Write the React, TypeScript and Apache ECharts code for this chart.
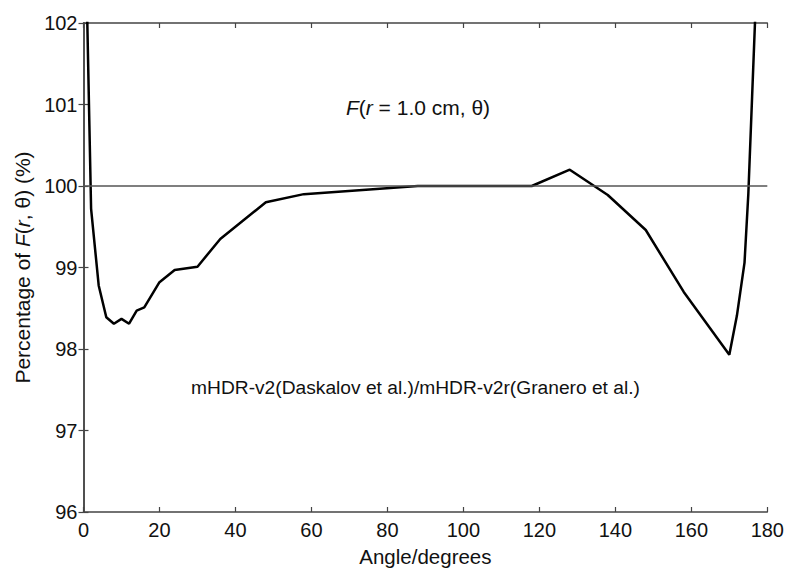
import React, { useEffect, useRef } from "react";
import * as echarts from "echarts";

const angles = [0, 2, 4, 6, 8, 10, 12, 14, 16, 20, 24, 30, 36, 48, 58, 88, 118, 128, 138, 148, 158, 170, 172, 174, 175, 176, 177, 180];
const percentages = [104.3, 99.72, 98.78, 98.39, 98.31, 98.37, 98.31, 98.47, 98.51, 98.82, 98.97, 99.01, 99.35, 99.8, 99.9, 100.0, 100.0, 100.2, 99.89, 99.46, 98.7, 97.93, 98.41, 99.06, 99.9, 101.1, 102.3, 108];
const referenceLevel = 100;
const xTicks = { min: 0, max: 180, interval: 20 };
const yTicks = { min: 96, max: 102, interval: 1 };
const titleText = "{i|F}({i|r} = 1.0 cm, θ)";
const subtitleText = "mHDR-v2(Daskalov et al.)/mHDR-v2r(Granero et al.)";
const yName = "Percentage of {i|F}({i|r}, θ) (%)";
const xName = "Angle/degrees";

const FONT = "'Liberation Sans', Arial, Helvetica, sans-serif";
const AXIS_COLOR = "#444";

export default function App() {
  const ref = useRef<HTMLDivElement>(null);
  useEffect(() => {
    if (!ref.current) return;
    const chart = echarts.init(ref.current, undefined, { renderer: "svg" });
    const axisLine = { show: true, lineStyle: { color: AXIS_COLOR, width: 1.5 } };
    const axisTick = { show: true, inside: true, length: 5, lineStyle: { color: AXIS_COLOR, width: 1.2 } };
    const italic = (size: number) => ({ fontStyle: "italic", fontFamily: FONT, fontSize: size, color: "#111" });
    chart.setOption({
      animation: false,
      backgroundColor: "#fff",
      textStyle: { fontFamily: FONT },
      grid: { left: 83.5, right: 19.5, top: 23, bottom: 52, containLabel: false },
      xAxis: [
        {
          type: "value",
          min: xTicks.min,
          max: xTicks.max,
          interval: xTicks.interval,
          position: "bottom",
          axisLine,
          axisTick,
          splitLine: { show: false },
          axisLabel: { color: "#111", fontSize: 20, fontFamily: FONT, margin: 8 },
          name: xName,
          nameLocation: "middle",
          nameGap: 34,
          nameTextStyle: { color: "#111", fontSize: 20.5, fontFamily: FONT },
        },
        {
          type: "value",
          min: xTicks.min,
          max: xTicks.max,
          interval: xTicks.interval,
          position: "top",
          axisLine,
          axisTick,
          splitLine: { show: false },
          axisLabel: { show: false },
        },
      ],
      yAxis: [
        {
          type: "value",
          min: yTicks.min,
          max: yTicks.max,
          interval: yTicks.interval,
          position: "left",
          axisLine,
          axisTick,
          splitLine: { show: false },
          axisLabel: { color: "#111", fontSize: 20, fontFamily: FONT, margin: 6 },
          name: yName,
          nameLocation: "middle",
          nameGap: 50,
          nameTextStyle: {
            color: "#111",
            fontSize: 21,
            fontFamily: FONT,
            rich: { i: italic(21) },
          },
        },
        {
          type: "value",
          min: yTicks.min,
          max: yTicks.max,
          interval: yTicks.interval,
          position: "right",
          axisLine,
          axisTick,
          splitLine: { show: false },
          axisLabel: { show: false },
        },
      ],
      series: [
        {
          type: "line",
          data: angles.map((a, i) => [a, percentages[i]]),
          showSymbol: false,
          symbol: "none",
          clip: true,
          lineStyle: { color: "#000", width: 2.5 },
          z: 3,
          markLine: {
            silent: true,
            symbol: "none",
            label: { show: false },
            lineStyle: { color: "#555", width: 1.5, type: "solid" },
            data: [{ yAxis: referenceLevel }],
          },
        },
      ],
      graphic: [
        {
          type: "text",
          x: 418,
          y: 107,
          style: {
            text: titleText,
            fontSize: 21,
            fontFamily: FONT,
            fill: "#111",
            align: "center",
            verticalAlign: "middle",
            rich: { i: italic(21) },
          },
        },
        {
          type: "text",
          x: 415.5,
          y: 387,
          style: {
            text: subtitleText,
            fontSize: 19.2,
            fontFamily: FONT,
            fill: "#111",
            align: "center",
            verticalAlign: "middle",
          },
        },
      ],
    });
    return () => chart.dispose();
  }, []);
  return <div ref={ref} style={{ width: 787, height: 572, position: "fixed", left: 0, top: 0 }} />;
}
